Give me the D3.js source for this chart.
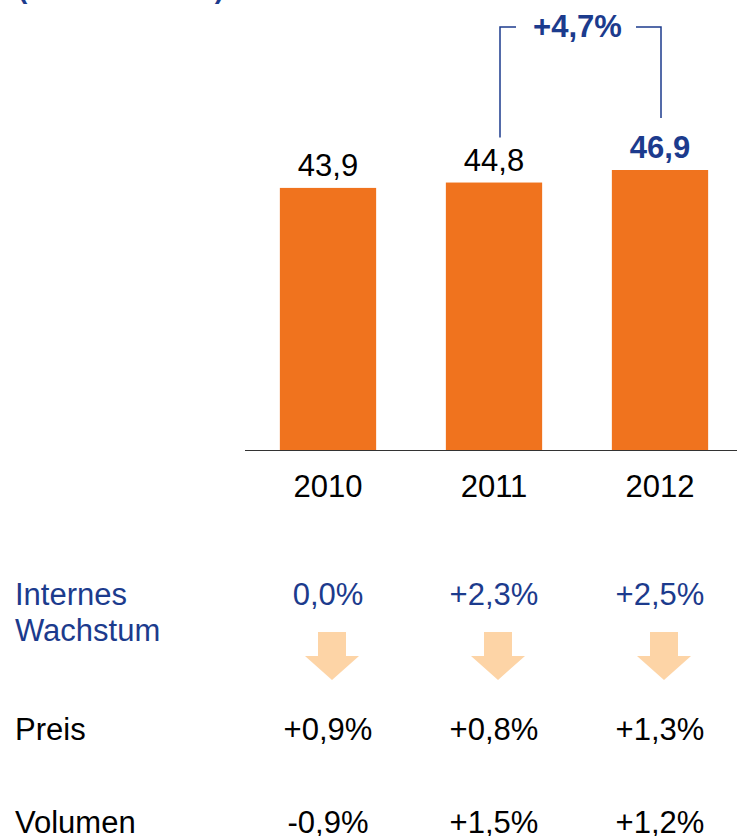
<!DOCTYPE html>
<html>
<head>
<meta charset="utf-8">
<script src="https://cdn.jsdelivr.net/npm/d3@7"></script>
<style>
  body { margin: 0; background: #fff; }
  svg { display: block; font-family: "Liberation Sans", Arial, sans-serif; }
</style>
</head>
<body>
<div id="chart"></div>
<script>
// data
const years = ['2010', '2011', '2012'];
const sales = [43.9, 44.8, 46.9];
const salesLabels = ['43,9', '44,8', '46,9'];
const growthLabel = '+4,7%';
const rowNames = [['Internes', 'Wachstum'], ['Preis'], ['Volumen']];
const internal = ['0,0%', '+2,3%', '+2,5%'];
const price = ['+0,9%', '+0,8%', '+1,3%'];
const volume = ['-0,9%', '+1,5%', '+1,2%'];

const W = 737, H = 836;
const orange = '#f0731e';
const blue = '#1c3b8d';
const fontSize = 31;

const svg = d3.select('#chart').append('svg')
  .attr('width', W)
  .attr('height', H);

// x scale for the three columns
const x = d3.scaleBand()
  .domain(years)
  .range([245, 743])
  .paddingInner(0.42)
  .paddingOuter(0.21);

const y = d3.scaleLinear()
  .domain([0, 46.9])
  .range([450, 170]);

// cut-off unit caption at the very top
svg.append('text')
  .attr('x', 18)
  .attr('y', -2)
  .attr('fill', blue)
  .attr('font-weight', 'bold')
  .attr('font-size', 28)
  .attr('textLength', 206)
  .text('(in Mrd. EUR)');

// bars
svg.selectAll('rect.bar')
  .data(sales)
  .enter()
  .append('rect')
  .attr('class', 'bar')
  .attr('x', (d, i) => x(years[i]))
  .attr('y', d => y(d))
  .attr('width', x.bandwidth())
  .attr('height', d => y(0) - y(d))
  .attr('fill', orange);

// baseline
svg.append('line')
  .attr('x1', 245).attr('x2', W)
  .attr('y1', y(0) + 0.5).attr('y2', y(0) + 0.5)
  .attr('stroke', '#333')
  .attr('stroke-width', 1.2);

// value labels
svg.selectAll('text.val')
  .data(sales)
  .enter()
  .append('text')
  .attr('class', 'val')
  .attr('x', (d, i) => x(years[i]) + x.bandwidth() / 2)
  .attr('y', d => y(d) - 12)
  .attr('text-anchor', 'middle')
  .attr('font-size', fontSize)
  .attr('font-weight', (d, i) => i === 2 ? 'bold' : 'normal')
  .attr('fill', (d, i) => i === 2 ? blue : '#000')
  .text((d, i) => salesLabels[i]);

// year labels
svg.selectAll('text.year')
  .data(years)
  .enter()
  .append('text')
  .attr('class', 'year')
  .attr('x', d => x(d) + x.bandwidth() / 2)
  .attr('y', 497)
  .attr('text-anchor', 'middle')
  .attr('font-size', fontSize)
  .text(d => d);

// growth bracket between 2011 and 2012
const bx1 = x('2011') + x.bandwidth() / 2 + 6;
const bx2 = x('2012') + x.bandwidth() / 2 + 1;
const by = 27;
const bracket = d3.path();
bracket.moveTo(bx1, y(sales[1]) - 45);
bracket.lineTo(bx1, by);
bracket.lineTo(bx1 + 16, by);
bracket.moveTo(bx2 - 25, by);
bracket.lineTo(bx2, by);
bracket.lineTo(bx2, y(sales[2]) - 52);
svg.append('path')
  .attr('d', bracket.toString())
  .attr('fill', 'none')
  .attr('stroke', blue)
  .attr('stroke-width', 1.5);

svg.append('text')
  .attr('x', (bx1 + bx2) / 2 - 3)
  .attr('y', 37)
  .attr('text-anchor', 'middle')
  .attr('font-size', 31)
  .attr('font-weight', 'bold')
  .attr('fill', blue)
  .text(growthLabel);

// table rows
const rowY = [605, 740, 833];
svg.selectAll('text.rowname')
  .data(rowNames)
  .enter()
  .append('text')
  .attr('class', 'rowname')
  .attr('x', 15)
  .attr('y', (d, i) => rowY[i])
  .attr('font-size', fontSize)
  .attr('fill', (d, i) => i === 0 ? blue : '#000')
  .each(function (d) {
    d3.select(this).selectAll('tspan')
      .data(d)
      .enter()
      .append('tspan')
      .attr('x', 15)
      .attr('dy', (t, j) => j === 0 ? 0 : 36)
      .text(t => t);
  });

const rows = [internal, price, volume];
rows.forEach((vals, r) => {
  svg.selectAll('text.row' + r)
    .data(vals)
    .enter()
    .append('text')
    .attr('class', 'row' + r)
    .attr('x', (d, i) => x(years[i]) + x.bandwidth() / 2)
    .attr('y', rowY[r])
    .attr('text-anchor', 'middle')
    .attr('font-size', fontSize)
    .attr('fill', r === 0 ? blue : '#000')
    .text(d => d);
});

// down arrows
const arrow = (cx) => {
  const p = d3.path();
  p.moveTo(cx - 14, 632);
  p.lineTo(cx + 14, 632);
  p.lineTo(cx + 14, 656);
  p.lineTo(cx + 27, 656);
  p.lineTo(cx, 680);
  p.lineTo(cx - 27, 656);
  p.lineTo(cx - 14, 656);
  p.closePath();
  return p.toString();
};
svg.selectAll('path.arrow')
  .data(years)
  .enter()
  .append('path')
  .attr('class', 'arrow')
  .attr('d', d => arrow(x(d) + x.bandwidth() / 2 + 4))
  .attr('fill', '#fdd4a6');
</script>
</body>
</html>
